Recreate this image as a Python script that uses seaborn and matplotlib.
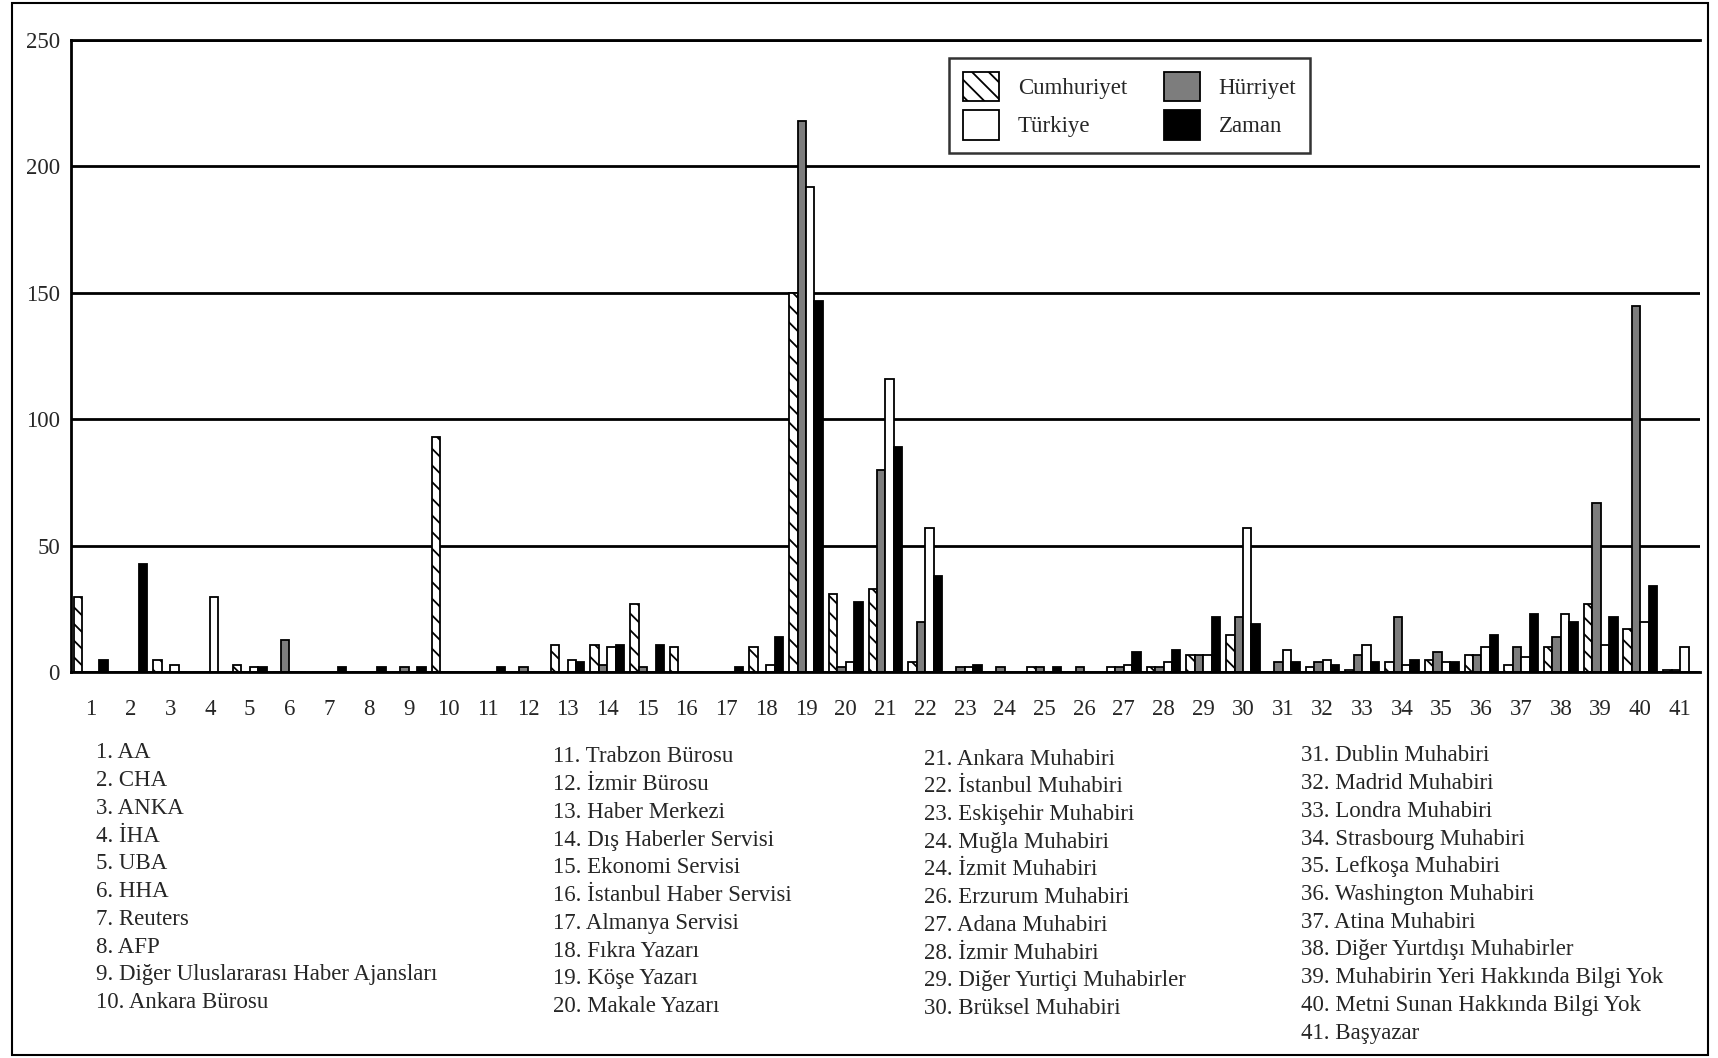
import numpy as np
import pandas as pd
import matplotlib
matplotlib.use("Agg")
import matplotlib.pyplot as plt
from matplotlib.patches import Rectangle
import seaborn as sns

# kategori numaralari (haber kaynaklari)
kategoriler = [str(i) for i in range(1, 42)]
gazeteler = ["Cumhuriyet", "Hürriyet", "Türkiye", "Zaman"]

cumhuriyet = [30, 0, 5, 0, 3, 0, 0, 0, 0, 93,
              0, 0, 11, 11, 27, 10, 0, 10, 150, 31,
              33, 4, 0, 0, 2, 0, 2, 2, 7, 15,
              0, 2, 1, 4, 5, 7, 3, 10, 27, 17,
              1]
hurriyet = [0, 0, 0, 0, 0, 13, 0, 0, 2, 0,
            0, 2, 0, 3, 2, 0, 0, 0, 218, 2,
            80, 20, 2, 2, 2, 2, 2, 2, 7, 22,
            4, 4, 7, 22, 8, 7, 10, 14, 67, 145,
            1]
turkiye = [0, 0, 3, 30, 2, 0, 0, 0, 0, 0,
           0, 0, 5, 10, 0, 0, 0, 3, 192, 4,
           116, 57, 2, 0, 0, 0, 3, 4, 7, 57,
           9, 5, 11, 3, 4, 10, 6, 23, 11, 20,
           10]
zaman = [5, 43, 0, 0, 2, 0, 2, 2, 2, 0,
         2, 0, 4, 11, 11, 0, 2, 14, 147, 28,
         89, 38, 3, 0, 2, 0, 8, 9, 22, 19,
         4, 3, 4, 5, 4, 15, 23, 20, 22, 34,
         0]

y_ticks = [0, 50, 100, 150, 200, 250]

kaynak_etiketleri = [
    "1. AA", "2. CHA", "3. ANKA", "4. İHA", "5. UBA", "6. HHA", "7. Reuters", "8. AFP",
    "9. Diğer Uluslararası Haber Ajansları", "10. Ankara Bürosu",
    "11. Trabzon Bürosu", "12. İzmir Bürosu", "13. Haber Merkezi", "14. Dış Haberler Servisi",
    "15. Ekonomi Servisi", "16. İstanbul Haber Servisi", "17. Almanya Servisi", "18. Fıkra Yazarı",
    "19. Köşe Yazarı", "20. Makale Yazarı",
    "21. Ankara Muhabiri", "22. İstanbul Muhabiri", "23. Eskişehir Muhabiri", "24. Muğla Muhabiri",
    "24. İzmit Muhabiri", "26. Erzurum Muhabiri", "27. Adana Muhabiri", "28. İzmir Muhabiri",
    "29. Diğer Yurtiçi Muhabirler", "30. Brüksel Muhabiri",
    "31. Dublin Muhabiri", "32. Madrid Muhabiri", "33. Londra Muhabiri", "34. Strasbourg Muhabiri",
    "35. Lefkoşa Muhabiri", "36. Washington Muhabiri", "37. Atina Muhabiri",
    "38. Diğer Yurtdışı Muhabirler", "39. Muhabirin Yeri Hakkında Bilgi Yok",
    "40. Metni Sunan Hakkında Bilgi Yok", "41. Başyazar",
]

df = pd.DataFrame({
    "no": kategoriler * 4,
    "gazete": np.repeat(gazeteler, len(kategoriler)),
    "sayi": cumhuriyet + hurriyet + turkiye + zaman,
})

sns.set_style("white")
plt.rcParams["font.family"] = ["Liberation Serif", "DejaVu Serif"]
plt.rcParams["hatch.linewidth"] = 1.3

fig = plt.figure(figsize=(17.18, 10.58), dpi=100)
ax = fig.add_axes([0.0413, 0.3644, 0.9482, 0.5978])

renkler = {"Cumhuriyet": "white", "Hürriyet": "#7d7d7d", "Türkiye": "white", "Zaman": "black"}
sns.barplot(data=df, x="no", y="sayi", hue="gazete", hue_order=gazeteler,
            order=kategoriler, palette=renkler, edgecolor="black", linewidth=1.3,
            width=0.85, dodge=True, legend=False, ax=ax)

for p in ax.containers[0]:
    p.set_hatch("\\\\")

ax.set_xlim(-0.5, len(kategoriler) - 0.5)
ax.set_ylim(0, 250)
ax.set_yticks(y_ticks)
ax.set_yticklabels([str(v) for v in y_ticks], fontsize=16.5)
ax.set_xlabel("")
ax.set_ylabel("")

ax.set_xticks(range(len(kategoriler)))
ax.set_xticklabels(kategoriler, fontsize=16.5)
ax.set_xticks(np.arange(-0.5, len(kategoriler)), minor=True)
ax.tick_params(axis="x", which="major", length=0, pad=19)
ax.tick_params(axis="x", which="minor", length=8, width=1.5, direction="out", color="black")
ax.tick_params(axis="y", length=6, width=1.5, direction="out", color="black", pad=2)

ax.yaxis.grid(True, color="black", linewidth=2)
ax.set_axisbelow(True)
for s in ["left", "bottom", "top"]:
    ax.spines[s].set_visible(True)
    ax.spines[s].set_color("black")
    ax.spines[s].set_linewidth(2)
ax.spines["right"].set_visible(False)

cont = ax.containers
leg = ax.legend([cont[0][0], cont[2][0], cont[1][0], cont[3][0]],
                ["Cumhuriyet", "Türkiye", "Hürriyet", "Zaman"],
                ncol=2, loc="upper left", bbox_to_anchor=(0.532, 0.99),
                fontsize=16.5, frameon=True, fancybox=False, edgecolor="black",
                handlelength=1.6, handleheight=1.6, columnspacing=1.6,
                borderpad=0.6, labelspacing=0.4)
leg.get_frame().set_linewidth(1.8)

# kaynak aciklamalari
sutun_x = [0.0559, 0.322, 0.538, 0.757]
sutun_y = [0.2883, 0.2845, 0.2825, 0.2855]
for k, x0 in enumerate(sutun_x):
    satirlar = kaynak_etiketleri[k * 10:(k + 1) * 10] if k < 3 else kaynak_etiketleri[30:]
    for j, t in enumerate(satirlar):
        fig.text(x0, sutun_y[k] - j * 0.0262, t, fontsize=16.5, va="center", ha="left")

fig.add_artist(Rectangle((12 / 1718, 3 / 1058), 1696 / 1718, 1052 / 1058,
                         transform=fig.transFigure, fill=False, lw=1.5, ec="black"))

fig.savefig("out.png", dpi=100, facecolor="white")
